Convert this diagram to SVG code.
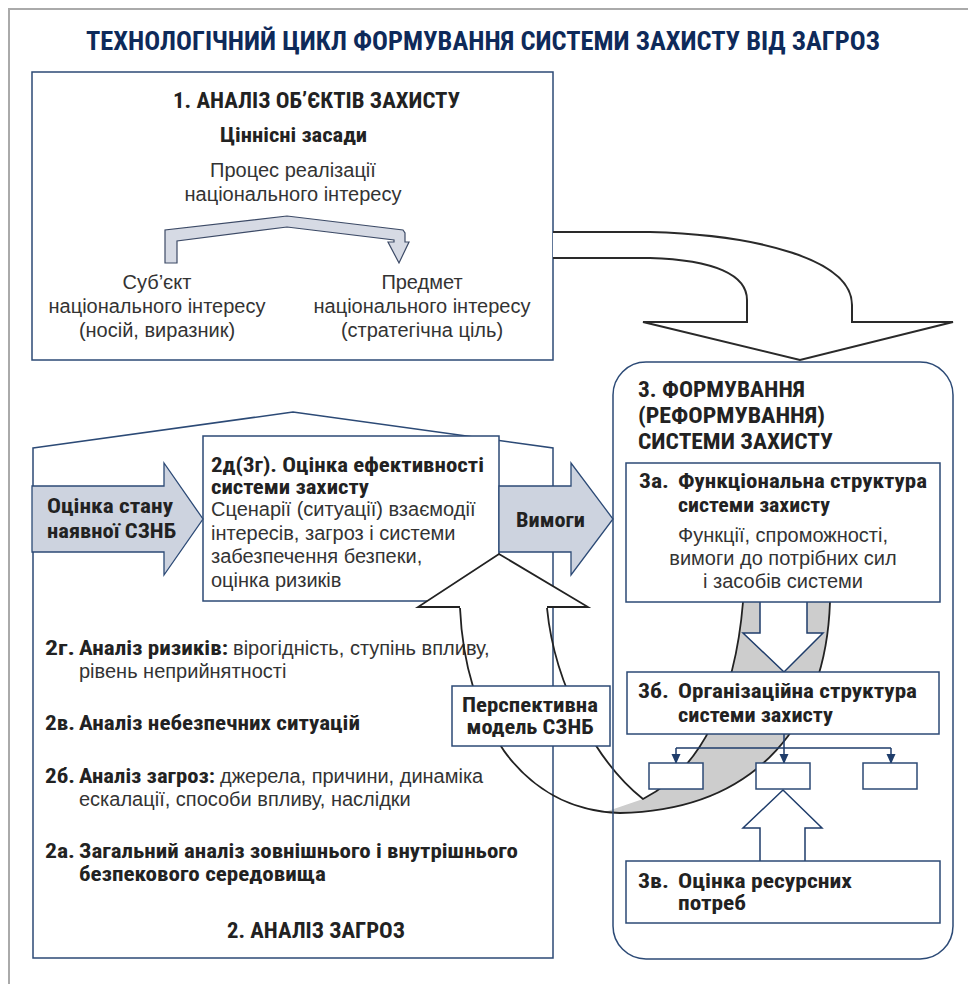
<svg xmlns="http://www.w3.org/2000/svg" width="968" height="984" viewBox="0 0 968 984">
<defs>
<marker id="ah" markerWidth="10" markerHeight="10" refX="9" refY="5" orient="auto" markerUnits="userSpaceOnUse"><path d="M0,0.5 L10,5 L0,9.5 Z" fill="#1f3d6b"/></marker>
</defs>
<style>
.b{font-family:"Liberation Sans Narrow","Roboto Condensed","DejaVu Sans Condensed","Liberation Sans",sans-serif;font-weight:bold;fill:#222;font-size:21px;}
.h{font-size:22px;}
.r{font-family:"Liberation Sans",Arial,sans-serif;font-size:20px;fill:#333;}
.m{text-anchor:middle;}
.box{fill:#fff;stroke:#2c4a76;stroke-width:1.5;}
.nf{fill:none;stroke:#2c4a76;stroke-width:1.5;}
.blue{fill:#cdd3df;stroke:#2c4a76;stroke-width:1.3;}
.ol{fill:none;stroke:#222;stroke-width:1.8;}
.nav{fill:#fff;stroke:#1f3d6b;stroke-width:1.5;}
.ln{fill:none;stroke:#1f3d6b;stroke-width:1.5;}
</style>
<rect width="968" height="984" fill="#fff"/>
<path d="M9,984 L9,9 L968,9" fill="none" stroke="#aaa" stroke-width="2"/>
<g id="title">
<text class="b" x="86" y="50" style="font-size:25px;fill:#0e2a5a" textLength="794" lengthAdjust="spacingAndGlyphs">ТЕХНОЛОГІЧНИЙ ЦИКЛ ФОРМУВАННЯ СИСТЕМИ ЗАХИСТУ ВІД ЗАГРОЗ</text>
</g>
<g id="box1">
<rect class="box" x="32" y="72" width="521" height="288"/>
<text class="b h" x="173" y="108" textLength="287" lengthAdjust="spacingAndGlyphs">1. АНАЛІЗ ОБ’ЄКТІВ ЗАХИСТУ</text>
<text class="b" x="220" y="142" textLength="147" lengthAdjust="spacingAndGlyphs">Ціннісні засади</text>
<text class="r m" x="293" y="177">Процес реалізації</text>
<text class="r m" x="293" y="201">національного інтересу</text>
<text class="r m" x="157" y="289">Суб’єкт</text>
<text class="r m" x="157" y="313">національного інтересу</text>
<text class="r m" x="157" y="337">(носій, виразник)</text>
<text class="r m" x="422" y="289">Предмет</text>
<text class="r m" x="422" y="313">національного інтересу</text>
<text class="r m" x="422" y="337">(стратегічна ціль)</text>
</g>
<g id="box2">
<path class="nf" d="M33,448 L293,412 L553,448 L553,958 L33,958 Z"/>
<text class="b h" x="227" y="938" textLength="178" lengthAdjust="spacingAndGlyphs">2. АНАЛІЗ ЗАГРОЗ</text>
<text class="b" x="45" y="655" textLength="30" lengthAdjust="spacingAndGlyphs">2г.</text>
<text class="b" x="79" y="655" textLength="149" lengthAdjust="spacingAndGlyphs">Аналіз ризиків:</text>
<text class="r" x="233" y="655">вірогідність, ступінь впливу,</text>
<text class="r" x="79" y="678">рівень неприйнятності</text>
<text class="b" x="45" y="730" textLength="30" lengthAdjust="spacingAndGlyphs">2в.</text>
<text class="b" x="79" y="730" textLength="281" lengthAdjust="spacingAndGlyphs">Аналіз небезпечних ситуацій</text>
<text class="b" x="45" y="783" textLength="30" lengthAdjust="spacingAndGlyphs">2б.</text>
<text class="b" x="79" y="783" textLength="136" lengthAdjust="spacingAndGlyphs">Аналіз загроз:</text>
<text class="r" x="220" y="783">джерела, причини, динаміка</text>
<text class="r" x="79" y="806">ескалації, способи впливу, наслідки</text>
<text class="b" x="45" y="858" textLength="30" lengthAdjust="spacingAndGlyphs">2а.</text>
<text class="b" x="79" y="858" textLength="439" lengthAdjust="spacingAndGlyphs">Загальний аналіз зовнішнього і внутрішнього</text>
<text class="b" x="79" y="881" textLength="247" lengthAdjust="spacingAndGlyphs">безпекового середовища</text>
</g>
<g id="box2d">
<rect class="box" x="203" y="436" width="296" height="165"/>
<text class="b" x="211" y="472" textLength="273" lengthAdjust="spacingAndGlyphs">2д(3г). Оцінка ефективності</text>
<text class="b" x="211" y="494" textLength="158" lengthAdjust="spacingAndGlyphs">системи захисту</text>
<text class="r" x="211" y="516">Сценарії (ситуації) взаємодії</text>
<text class="r" x="211" y="540">інтересів, загроз і системи</text>
<text class="r" x="211" y="563">забезпечення безпеки,</text>
<text class="r" x="211" y="587">оцінка ризиків</text>
</g>
<g id="connectors">
<path d="M165,263 L165,230 L287,216 L403,230 L405,233 L405,242 L409,242 L399,263 L388,242 L394,242 L394,240 L287,227 L177,241 L177,263 Z" fill="#d6dae4" stroke="#3c4a66" stroke-width="1.2"/>
<path d="M553,232 L650,232 C760,235 852,260 852,305 L852,322 L953,322 L800,360 L643,322 L747,322 L747,300 C747,275 715,260 650,258 L553,258" fill="#fff" stroke="#2a2a2a" stroke-width="2"/>
<path d="M743,602 C735,700 700,770 643,799 L605,812 L620,813 C760,810 826,720 830,602 Z" fill="#cdcdcd"/>
<path class="ol" d="M460,608 C465,720 520,810 620,813 C760,810 826,720 830,602"/>
<path class="ol" d="M547,608 C555,690 600,765 643,799 C700,770 735,700 743,602"/>
<path d="M460,607 L418,607 L499,554 L588,607 L547,607" fill="#fff" stroke="#222" stroke-width="1.8"/>
<path class="nav" d="M760,602 L760,633 L743,633 L784,672 L823,633 L807,633 L807,602"/>
<path class="nav" d="M760,861 L760,828 L743,828 L783,790 L822,828 L805,828 L805,861"/>
<path class="ln" d="M784,734 L784,748 M676,748 L891,748"/>
<path class="ln" d="M676,748 L676,763" marker-end="url(#ah)"/>
<path class="ln" d="M784,748 L784,763" marker-end="url(#ah)"/>
<path class="ln" d="M891,748 L891,763" marker-end="url(#ah)"/>
</g>
<g id="box3">
<rect class="nf" x="613" y="362" width="340" height="597" rx="33"/>
<text class="b h" x="638" y="397" textLength="167" lengthAdjust="spacingAndGlyphs">3. ФОРМУВАННЯ</text>
<text class="b h" x="638" y="423" textLength="187" lengthAdjust="spacingAndGlyphs">(РЕФОРМУВАННЯ)</text>
<text class="b h" x="638" y="449" textLength="195" lengthAdjust="spacingAndGlyphs">СИСТЕМИ ЗАХИСТУ</text>
</g>
<g id="box3a">
<rect class="box" x="626" y="463" width="314" height="139"/>
<text class="b" x="639" y="488" textLength="30" lengthAdjust="spacingAndGlyphs">3а.</text>
<text class="b" x="678" y="488" textLength="249" lengthAdjust="spacingAndGlyphs">Функціональна структура</text>
<text class="b" x="678" y="512" textLength="152" lengthAdjust="spacingAndGlyphs">системи захисту</text>
<text class="r m" x="783" y="542">Функції, спроможності,</text>
<text class="r m" x="783" y="565">вимоги до потрібних сил</text>
<text class="r m" x="783" y="588">і засобів системи</text>
</g>
<g id="box3b">
<rect class="box" x="627" y="672" width="312" height="62"/>
<text class="b" x="638" y="698" textLength="31" lengthAdjust="spacingAndGlyphs">3б.</text>
<text class="b" x="678" y="698" textLength="239" lengthAdjust="spacingAndGlyphs">Організаційна структура</text>
<text class="b" x="678" y="722" textLength="155" lengthAdjust="spacingAndGlyphs">системи захисту</text>
</g>
<g id="unit1"><rect class="box" x="649" y="763" width="54" height="26"/></g>
<g id="unit2"><rect class="box" x="756" y="763" width="54" height="26"/></g>
<g id="unit3"><rect class="box" x="863" y="763" width="54" height="26"/></g>
<g id="box3v">
<rect class="box" x="626" y="861" width="314" height="62"/>
<text class="b" x="638" y="888" textLength="31" lengthAdjust="spacingAndGlyphs">3в.</text>
<text class="b" x="678" y="888" textLength="174" lengthAdjust="spacingAndGlyphs">Оцінка ресурсних</text>
<text class="b" x="678" y="910" textLength="68" lengthAdjust="spacingAndGlyphs">потреб</text>
</g>
<g id="perspective">
<rect class="box" x="452" y="686" width="158" height="60"/>
<text class="b m" x="530" y="712" textLength="136" lengthAdjust="spacingAndGlyphs">Перспективна</text>
<text class="b m" x="530" y="734" textLength="127" lengthAdjust="spacingAndGlyphs">модель СЗНБ</text>
</g>
<g id="current-state">
<path class="blue" d="M32,486 L164,486 L164,463 L203,519 L164,575 L164,552 L32,552 Z"/>
<text class="b" x="47" y="513" textLength="126" lengthAdjust="spacingAndGlyphs">Оцінка стану</text>
<text class="b" x="47" y="538" textLength="129" lengthAdjust="spacingAndGlyphs">наявної СЗНБ</text>
</g>
<g id="requirements">
<path class="blue" d="M499,486 L571,486 L571,463 L613,519 L571,575 L571,552 L499,552 Z"/>
<text class="b" x="516" y="527" textLength="69" lengthAdjust="spacingAndGlyphs">Вимоги</text>
</g>
</svg>
